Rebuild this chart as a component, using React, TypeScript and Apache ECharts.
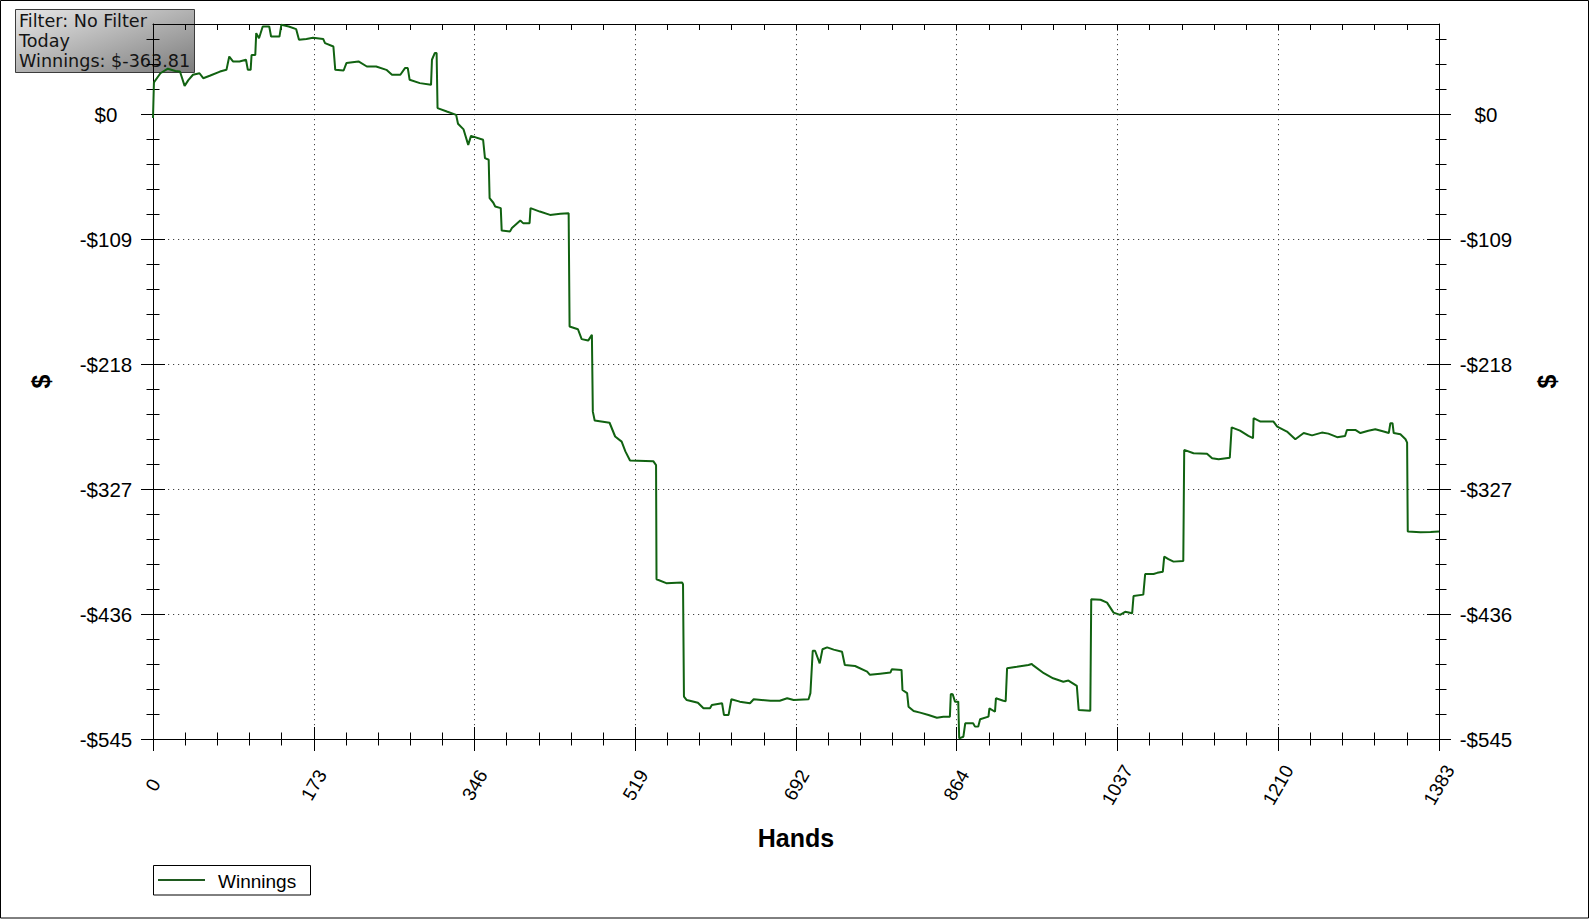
import React, { useEffect, useRef } from "react";
import * as echarts from "echarts";

const HAND_MAX = 1383;
const Y_MIN = -545;
const Y_MAX = 79;
const Y_STEP = 109;
const handTicks = [0, 173, 346, 519, 692, 864, 1037, 1210, 1383];
const dollarTicks = [-545, -436, -327, -218, -109, 0];
const seriesName = "Winnings";
const infoLines = ["Filter: No Filter", "Today", "Winnings: $-363.81"];

const hands = [
  0, 1, 8, 16, 24, 29, 34, 38, 43, 50, 54, 61, 72, 79, 82, 86, 93, 100, 102, 105,
  106, 110, 111, 114, 118, 125, 127, 136, 138, 146, 154, 157, 165, 172, 183, 185, 194, 196, 205, 208,
  221, 230, 240, 251, 257, 266, 271, 274, 276, 287, 299, 300, 303, 305, 306, 316, 326, 328, 334, 339,
  342, 355, 357, 361, 362, 366, 368, 374, 375, 384, 386, 395, 398, 405, 406, 416, 427, 438, 447, 448,
  457, 461, 468, 472, 473, 475, 491, 497, 504, 508, 513, 538, 541, 541.5, 552, 569, 570, 571, 574, 586,
  592, 599, 601, 612, 614, 619, 622, 631, 642, 646, 664, 674, 682, 689, 705, 707, 709.5, 712, 717, 720,
  725, 732, 741, 744, 755, 768, 771, 782, 793, 794.5, 805, 806, 811, 812.5, 818, 825, 834, 843, 850, 857,
  858, 860, 862.5, 866, 867, 871.5, 873.5, 882, 884, 887.5, 889.5, 898.5, 899.5, 905.5, 906.5, 914.5, 917, 918.5, 929, 941.5,
  945, 947, 958, 968, 979, 984.5, 993.5, 995.5, 1008, 1009, 1019, 1026, 1033, 1040, 1045.5, 1053, 1054.5, 1065, 1067, 1076,
  1080, 1086, 1087.5, 1092, 1097.5, 1108, 1109, 1119, 1133.5, 1139, 1146, 1158, 1160, 1169, 1178, 1183, 1183.6, 1191, 1205, 1209,
  1219.5, 1228.5, 1237.5, 1246.5, 1257, 1264, 1273.5, 1282, 1284, 1293, 1298.5, 1307, 1314.5, 1323.5, 1329, 1330.7, 1333, 1334.3, 1341.5, 1347,
  1348.7, 1349.4, 1363, 1374, 1383,
];

const winnings = [
  -3, 28, 36, 40, 38, 37.5, 25, 30, 34.7, 36, 31.7, 33.8, 37.5, 39, 50.6, 46.3, 46.3, 47.8, 39, 39,
  52, 52, 71, 66.6, 76.8, 76.8, 68, 68, 78.3, 76.8, 74.5, 65.2, 66, 67, 66, 62.3, 59.4, 39, 38.4, 44.9,
  46.3, 41.9, 41.9, 39, 34.7, 34.7, 40.5, 40.5, 30.3, 27.4, 25.9, 47.8, 53.6, 53.6, 5.6, 2.6, -0.3, -8, -13, -26.5,
  -18.6, -22, -38, -39.5, -73, -77, -80.3, -81.7, -101.3, -102, -99, -92.5, -94.8, -94.8, -81.7, -84.7, -87.6, -86.7, -86.1, -185,
  -187.4, -196, -197.3, -192.3, -259.3, -267, -269, -281, -285.5, -294, -302, -302.5, -306, -405.6, -409, -408.5, -410, -508, -511, -513.3,
  -518.2, -518.2, -515.3, -513.8, -524, -524, -510.3, -512.4, -513.8, -510.3, -511.6, -511.6, -509.5, -511, -510.3, -505, -468, -468, -479, -466.7,
  -465, -467, -468.8, -480.4, -481.3, -486.2, -489, -488, -487, -484.2, -484.7, -502.2, -505, -516.8, -520.6, -522, -524, -526.4, -525.5, -525.5,
  -505.7, -506, -512.4, -512.4, -544.4, -543, -531.3, -531.3, -534.2, -534, -527.8, -525.5, -518.2, -521.2, -509.5, -511.6, -512, -483.3, -482, -480.4,
  -479.5, -481, -487.6, -492, -495, -494, -498.7, -519.7, -520.3, -423, -423.5, -426, -434.7, -436.7, -434, -435.3, -420.2, -419, -401, -401,
  -400, -399, -385.8, -388, -390.2, -389.6, -292.7, -295.6, -296, -300, -300.8, -299.5, -273, -275.9, -280.5, -282.5, -265, -268, -268, -272.4,
  -276.7, -283.4, -278, -280, -277.6, -278.5, -281.6, -280.5, -275.3, -275.3, -278, -276, -274.7, -276.7, -278, -269.4, -269.4, -278, -279, -283.4,
  -286.3, -364, -364.5, -364.3, -363.81,
];

const FONT = '"Liberation Sans", Arial, Helvetica, sans-serif';
const LINE_COLOR = "#116211";
const BLACK = "#000";

function dollar(v: number): string {
  return (v < 0 ? "-" : "") + "$" + Math.abs(v);
}

export default function App() {
  const ref = useRef<HTMLDivElement>(null);

  useEffect(() => {
    if (!ref.current) return;
    const chart = echarts.init(ref.current, null, { renderer: "svg" });
    const data = hands.map((h, i) => [h, winnings[i]]);

    const xBase = {
      type: "value",
      gridIndex: 0,
      min: 0,
      max: HAND_MAX,
      interval: HAND_MAX / 8,
    };
    const yBase = {
      type: "value",
      gridIndex: 0,
      min: Y_MIN,
      max: Y_MAX,
      interval: Y_STEP,
    };
    const tickLine = { color: BLACK, width: 1 };
    const dotted = { color: "#444", width: 1, type: [1.2, 3.8] };

    const option: any = {
      animation: false,
      backgroundColor: "#fff",
      textStyle: { fontFamily: FONT },
      grid: { left: 153, right: 153, top: 24, bottom: 180, containLabel: false },
      xAxis: [
        {
          ...xBase,
          position: "bottom",
          axisLine: { show: true, onZero: false, lineStyle: tickLine },
          axisTick: { show: true, length: 12, customValues: handTicks, lineStyle: tickLine },
          minorTick: { show: true, splitNumber: 5, length: 6.5, lineStyle: tickLine },
          axisLabel: {
            show: true,
            customValues: handTicks,
            formatter: (v: number) => String(Math.round(v)),
            rotate: 60,
            align: "center",
            verticalAlign: "middle",
            margin: 46,
            fontSize: 19,
            color: BLACK,
            fontFamily: FONT,
          },
          splitLine: { show: true, lineStyle: dotted },
          name: "Hands",
          nameLocation: "middle",
          nameGap: 86,
          nameTextStyle: { fontSize: 25, fontWeight: "bold", color: BLACK, fontFamily: FONT },
        },
        {
          ...xBase,
          position: "bottom",
          axisLine: { show: false, onZero: false },
          axisTick: { show: true, inside: true, length: 12, customValues: handTicks, lineStyle: tickLine },
          minorTick: { show: true, splitNumber: 5, length: 6.5, lineStyle: tickLine },
          axisLabel: { show: false },
          splitLine: { show: false },
        },
        {
          ...xBase,
          position: "top",
          axisLine: { show: true, onZero: false, lineStyle: tickLine },
          axisTick: { show: true, inside: true, length: 6.5, customValues: handTicks, lineStyle: tickLine },
          minorTick: { show: true, splitNumber: 5, length: 6, lineStyle: tickLine },
          axisLabel: { show: false },
          splitLine: { show: false },
        },
      ],
      yAxis: [
        {
          ...yBase,
          position: "left",
          axisLine: { show: true, onZero: false, lineStyle: tickLine },
          axisTick: { show: true, length: 12, customValues: dollarTicks, lineStyle: tickLine },
          minorTick: { show: true, splitNumber: 5, length: 6.5, lineStyle: tickLine },
          axisLabel: {
            show: true,
            customValues: dollarTicks,
            formatter: (v: number) => (dollarTicks.indexOf(v) >= 0 ? dollar(v) : ""),
            align: "center",
            margin: 47,
            fontSize: 20.5,
            color: BLACK,
            fontFamily: FONT,
          },
          splitLine: { show: true, lineStyle: dotted },
          name: "$",
          nameLocation: "middle",
          nameGap: 100,
          nameTextStyle: { fontSize: 25, fontWeight: "bold", color: BLACK, fontFamily: FONT },
        },
        {
          ...yBase,
          position: "left",
          axisLine: { show: false, onZero: false },
          axisTick: { show: true, inside: true, length: 12, customValues: dollarTicks, lineStyle: tickLine },
          minorTick: { show: true, splitNumber: 5, length: 6.5, lineStyle: tickLine },
          axisLabel: { show: false },
          splitLine: { show: false },
        },
        {
          ...yBase,
          position: "right",
          axisLine: { show: true, onZero: false, lineStyle: tickLine },
          axisTick: { show: true, length: 12, customValues: dollarTicks, lineStyle: tickLine },
          minorTick: { show: true, splitNumber: 5, length: 7.5, lineStyle: tickLine },
          axisLabel: {
            show: true,
            customValues: dollarTicks,
            formatter: (v: number) => (dollarTicks.indexOf(v) >= 0 ? dollar(v) : ""),
            align: "center",
            margin: 47,
            fontSize: 20.5,
            color: BLACK,
            fontFamily: FONT,
          },
          splitLine: { show: false },
          name: "$",
          nameLocation: "middle",
          nameGap: 95,
          nameTextStyle: { fontSize: 25, fontWeight: "bold", color: BLACK, fontFamily: FONT },
        },
        {
          ...yBase,
          position: "right",
          axisLine: { show: false, onZero: false },
          axisTick: { show: true, inside: true, length: 12, customValues: dollarTicks, lineStyle: tickLine },
          minorTick: { show: true, splitNumber: 5, length: 3.5, lineStyle: tickLine },
          axisLabel: { show: false },
          splitLine: { show: false },
        },
      ],
      series: [
        {
          name: seriesName,
          type: "line",
          xAxisIndex: 0,
          yAxisIndex: 0,
          data,
          symbol: "none",
          showSymbol: false,
          lineStyle: { color: LINE_COLOR, width: 2 },
          itemStyle: { color: LINE_COLOR },
          z: 5,
          markLine: {
            silent: true,
            symbol: "none",
            label: { show: false },
            lineStyle: { color: BLACK, type: "solid", width: 1 },
            emphasis: { disabled: true },
            data: [{ yAxis: 0 }],
          },
        },
      ],
      graphic: [
        {
          type: "rect",
          z: 200,
          silent: true,
          shape: { x: 0.5, y: 0.5, width: 1588, height: 917.5 },
          style: { fill: "none", stroke: BLACK, lineWidth: 1 },
        },
        {
          type: "group",
          z: 150,
          silent: true,
          children: [
            {
              type: "rect",
              shape: { x: 15.5, y: 9.5, width: 179, height: 63 },
              style: {
                fill: new echarts.graphic.LinearGradient(0, 0, 1, 1, [
                  { offset: 0, color: "#e8e8e8" },
                  { offset: 1, color: "#7c7c7c" },
                ]),
                stroke: "#3c3c3c",
                lineWidth: 1,
              },
            },
            ...infoLines.map((t, i) => ({
              type: "text",
              x: 19,
              y: 11.5 + i * 20.3,
              style: {
                text: t,
                fill: "#141414",
                font: '17.6px "DejaVu Sans", Verdana, sans-serif',
                textVerticalAlign: "top",
              },
            })),
          ],
        },
        {
          type: "group",
          z: 150,
          silent: true,
          children: [
            {
              type: "rect",
              shape: { x: 153.5, y: 865.5, width: 157, height: 29.5 },
              style: { fill: "#fff", stroke: BLACK, lineWidth: 1 },
            },
            {
              type: "line",
              shape: { x1: 158, y1: 880, x2: 205, y2: 880 },
              style: { stroke: "#1f5a1f", lineWidth: 2 },
            },
            {
              type: "text",
              x: 218,
              y: 881,
              style: {
                text: seriesName,
                fill: BLACK,
                font: "19px " + FONT,
                textVerticalAlign: "middle",
              },
            },
          ],
        },
      ],
    };

    chart.setOption(option);
    return () => chart.dispose();
  }, []);

  return (
    <div
      ref={ref}
      style={{ position: "fixed", left: 0, top: 0, width: 1592, height: 919, background: "#fff" }}
    />
  );
}
